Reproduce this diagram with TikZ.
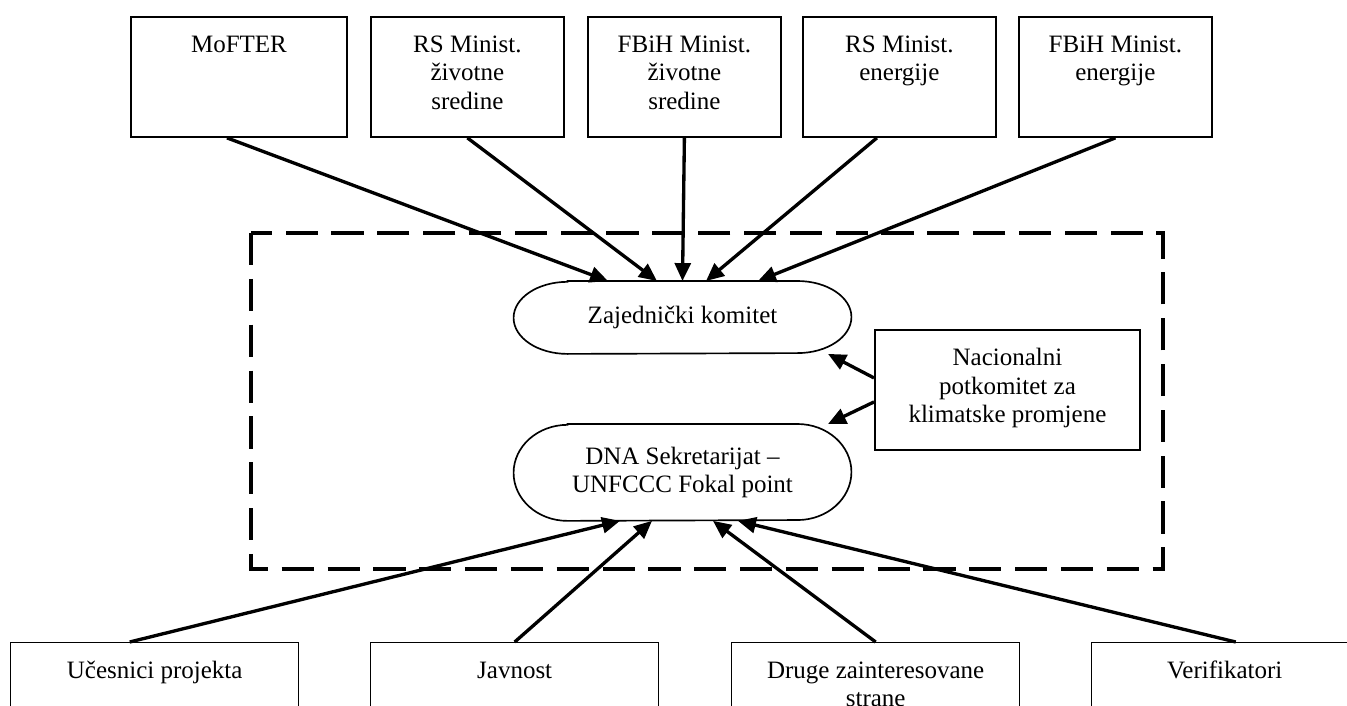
\documentclass[tikz,border=0pt]{standalone}
\usepackage{fontspec}
\setmainfont{Liberation Serif}
\usetikzlibrary{arrows.meta,calc}

\begin{document}
\begin{tikzpicture}[
  x=0.48pt, y=-0.48pt,
  font=\fontsize{12}{13.7}\selectfont,
  org/.style={draw=black, line width=0.9pt, minimum width=92.6pt,
              minimum height=57.6pt, align=center, inner sep=2pt,
              anchor=north west},
  party/.style={org, line width=0.7pt, minimum width=138.2pt},
  body/.style={minimum width=161.8pt, align=center, anchor=north},
  outline/.style={draw=black, line width=0.8pt},
  link/.style={-{Triangle[length=8.6pt, width=7.6pt]}, line width=1.6pt},
  dashframe/.style={line width=2.1pt, dash pattern=on 15.5pt off 6.5pt}
]
\useasboundingbox (0,0) rectangle (1347,706);
\clip (0,0) rectangle (1347,706);

% Ministarstva
\node[org, minimum width=103.7pt] (mofter) at (130,16) {MoFTER\\\strut\\\strut};
\node[org] (rsenv) at (370,16) {RS Minist.\\životne\\sredine\strut};
\node[org] (fbenv) at (587,16) {FBiH Minist.\\životne\\sredine\strut};
\node[org] (rsen) at (802,16) {RS Minist.\\energije\\\strut};
\node[org] (fben) at (1018,16) {FBiH Minist.\\energije\\\strut};

% Okvir
\draw[dashframe] (251,233) rectangle (1163,569);

% Zajednicki komitet i sekretarijat
\node[body, minimum height=34.6pt] (zk) at (682.5,281) {Zajednički komitet};
\node[body, minimum height=46.1pt] (dna) at (682.5,424)
  {DNA Sekretarijat –\\UNFCCC Fokal point};
\foreach \n/\r in {zk/17.3pt, dna/23.05pt}
  \draw[outline] ($(\n.north west)+(54,0)$) -- ($(\n.north east)+(-54,0)$)
    arc[start angle=90, end angle=-90, x radius=25.9pt, y radius=\r]
    -- ($(\n.south west)+(54,0)$)
    arc[start angle=270, end angle=90, x radius=25.9pt, y radius=\r] -- cycle;

\node[org, minimum width=127.2pt] (nac) at (874,329)
  {Nacionalni\\potkomitet za\\klimatske promjene\strut};

% Ostali ucesnici
\node[party] (ucesnici) at (10,642) {Učesnici projekta\\\strut\\\strut};
\node[party] (javnost) at (370,642) {Javnost\\\strut\\\strut};
\node[party] (druge) at (731,642) {Druge zainteresovane\\strane\\\strut};
\node[party, minimum width=127.7pt] (verif) at (1091,642) {Verifikatori\\\strut\\\strut};

% Veze prema komitetu
\draw[link] ($(mofter.south)+(-12,0)$) -- ($(zk.north)+(-74.5,0)$);
\draw[link] (rsenv.south) -- ($(zk.north)+(-25.5,0)$);
\draw[link] (fbenv.south) -- (zk.north);
\draw[link] ($(rsen.south)+(-22.5,0)$) -- ($(zk.north)+(23.5,0)$);
\draw[link] (fben.south) -- ($(zk.north)+(75.5,0)$);

\draw[link] ($(nac.west)+(0,-12)$) -- ($(zk.south)+(145.5,0)$);
\draw[link] ($(nac.west)+(0,12)$) -- ($(dna.north)+(145.5,0)$);

% Veze prema sekretarijatu
\draw[link] ($(ucesnici.north)+(-25,0)$) -- ($(dna.south)+(-62.5,0)$);
\draw[link] (javnost.north) -- ($(dna.south)+(-30.5,0)$);
\draw[link] (druge.north) -- ($(dna.south)+(30.5,0)$);
\draw[link] ($(verif.north)+(11,0)$) -- ($(dna.south)+(55.5,0)$);

\end{tikzpicture}
\end{document}
